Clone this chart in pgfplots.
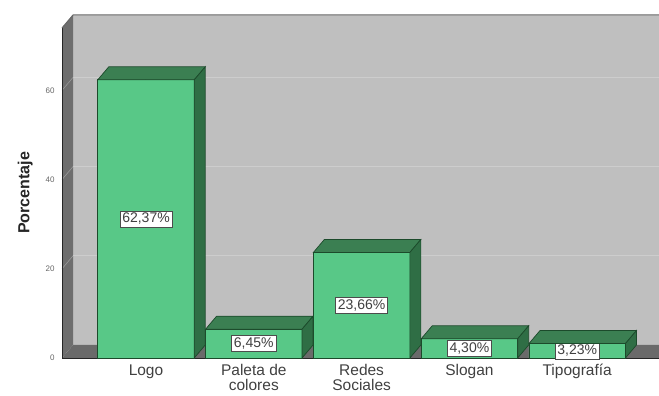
\documentclass[border=0pt]{standalone}
\usepackage{pgfplots}
\pgfplotsset{compat=1.18}
\usepackage{fontspec}
\setmainfont{Liberation Sans}
\definecolor{wall}{HTML}{BFBFBF}
\definecolor{sidew}{HTML}{6E6E6E}
\definecolor{floorc}{HTML}{6A6A6A}
\definecolor{gridc}{HTML}{CDCDCD}
\definecolor{front}{HTML}{58C887}
\definecolor{topc}{HTML}{3B7F52}
\definecolor{sidec}{HTML}{2F6E45}
\definecolor{edge}{HTML}{1C4A2B}
\pgfplotstableread{
x v
0 62.37
1 6.45
2 23.66
3 4.30
4 3.23
}\datatable
\begin{document}
\begin{tikzpicture}
\begin{axis}[
  at={(0,0)}, anchor=origin,
  x=107.8pt, y=4.46pt,
  xmin=-0.779, xmax=4.76, ymin=0, ymax=74,
  axis line style={draw=none},
  major tick length=0pt,
  clip=false,
  /pgf/number format/assume math mode=true,
  xtick={0,1,2,3,4},
  xticklabels={Logo, Paleta de\\colores, Redes\\Sociales, Slogan, Tipografía},
  xticklabel style={align=center, font=\fontsize{15.5}{15}\selectfont, text=black!75, yshift=-3pt},
  ytick={0,20,40,60},
  yticklabel style={font=\fontsize{8}{8}\selectfont, text=black!60, xshift=-4pt},
  ylabel={Porcentaje},
  ylabel shift=6pt,
  ylabel style={font=\bfseries\fontsize{16}{16}\selectfont, text=black!85},
]
% walls
\fill[wall] ([shift={(11pt,13pt)}]axis cs:-0.779,0) rectangle ([shift={(11pt,13pt)}]axis cs:5,74);
\fill[sidew] (axis cs:-0.779,0) -- ([shift={(11pt,13pt)}]axis cs:-0.779,0) -- ([shift={(11pt,13pt)}]axis cs:-0.779,74) -- (axis cs:-0.779,74) -- cycle;
\fill[floorc] (axis cs:-0.779,0) -- ([shift={(11pt,13pt)}]axis cs:-0.779,0) -- ([shift={(11pt,13pt)}]axis cs:5,0) -- (axis cs:5,0) -- cycle;
\pgfplotsinvokeforeach{20,40,60}{
  \draw[gridc, line width=0.6pt] ([shift={(11pt,13pt)}]axis cs:-0.779,#1) -- ([shift={(11pt,13pt)}]axis cs:5,#1);
  \draw[black!40, line width=0.6pt] (axis cs:-0.779,#1) -- ([shift={(11pt,13pt)}]axis cs:-0.779,#1);
}
\draw[black!85, line width=0.8pt] (axis cs:-0.779,74) -- (axis cs:-0.779,0) -- (axis cs:5,0);
\draw[black!60, line width=1pt] (axis cs:-0.779,74) -- ([shift={(11pt,13pt)}]axis cs:-0.779,74) -- ([shift={(11pt,13pt)}]axis cs:5,74);
% bars front faces with labels
\addplot[ybar, bar width=96.5pt, fill=front, draw=edge, line width=0.7pt,
  visualization depends on={\thisrow{v} \as \val},
  nodes near coords={\pgfmathprintnumber[fixed,fixed zerofill,precision=2,use comma,assume math mode=true]{\val}\%},
  nodes near coords align={center},
  every node near coord/.append style={anchor=center, yshift={-2.23pt*\val}, fill=white, draw=black!70, line width=0.5pt, text=black!75, font=\fontsize{14}{14}\selectfont, inner sep=2.3pt},
] table[x=x, y=v] {\datatable};
% 3D top and side faces
\addplot[scatter, only marks, mark=*, mark size=0pt, mark options={draw=none, fill=none},
  visualization depends on={\thisrow{v} \as \valb},
  scatter/@pre marker code/.code={%
    \fill[topc, draw=edge, line width=0.7pt] (-48.25pt,0pt) -- (48.25pt,0pt) -- (59.25pt,13pt) -- (-37.25pt,13pt) -- cycle;
    \fill[sidec, draw=edge, line width=0.7pt] (48.25pt,0pt) -- (59.25pt,13pt) -- (59.25pt,{13pt-4.46pt*\valb}) -- (48.25pt,{-4.46pt*\valb}) -- cycle;
  },
  scatter/@post marker code/.code={},
] table[x=x, y=v] {\datatable};
\end{axis}
\pgfresetboundingbox
\useasboundingbox (-146pt,-38pt) rectangle (513pt,358pt);
\end{tikzpicture}
\end{document}
